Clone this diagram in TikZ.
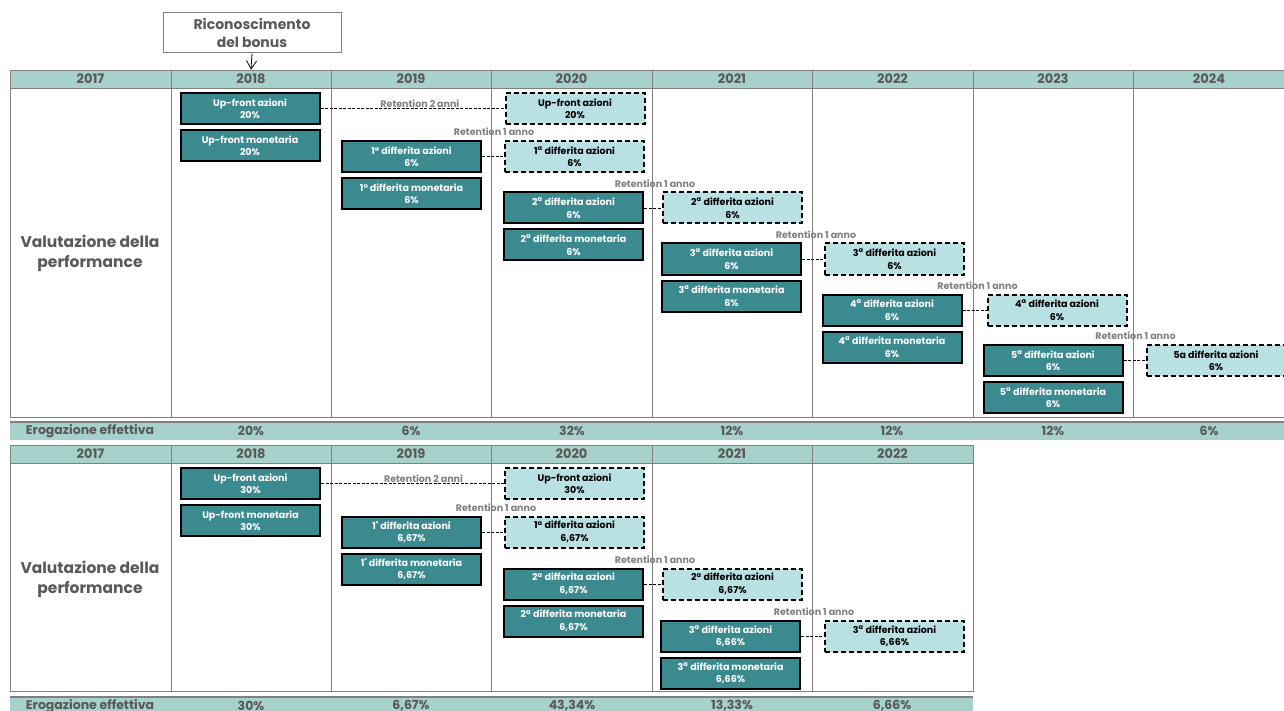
\documentclass[tikz,border=0pt]{standalone}
\usepackage{fontspec}
\setmainfont{Poppins}
\usetikzlibrary{arrows.meta, positioning}

\definecolor{headfill}{HTML}{A6D2CB}
\definecolor{tealfill}{HTML}{3B8A90}
\definecolor{retfill}{HTML}{B9E0E3}
\definecolor{gridgray}{HTML}{808080}
\definecolor{textgray}{HTML}{595959}
\definecolor{labelgray}{HTML}{7F7F7F}

\tikzset{
  yearcell/.style={draw=gridgray, fill=headfill, line width=0.8pt, minimum height=18pt, inner sep=0pt,
    text=textgray, font=\fontsize{13}{13}\selectfont\bfseries},
  gridline/.style={draw=gridgray, line width=0.8pt},
  paybox/.style={draw=black, fill=tealfill, line width=2pt, minimum width=139pt, minimum height=31pt,
    inner sep=0pt, align=center, text=white, font=\fontsize{9.5}{12.5}\selectfont\bfseries},
  retbox/.style={paybox, fill=retfill, text=black, dash pattern=on 5pt off 3pt},
  retline/.style={draw=black, line width=0.8pt, dash pattern=on 3pt off 1.5pt},
  retlabel/.style={text=labelgray, inner sep=1pt, font=\fontsize{9.5}{10}\selectfont\bfseries},
  erotext/.style={text=textgray, inner sep=0pt, font=\fontsize{12.5}{13}\selectfont\bfseries},
  valtext/.style={text=textgray, align=center, font=\fontsize{15.5}{20}\selectfont\bfseries},
  titlebox/.style={draw=gridgray, line width=1pt, minimum width=178pt, minimum height=40pt, inner sep=0pt,
    align=center, text=textgray, font=\fontsize{14}{18}\selectfont\bfseries}
}

\begin{document}
\begin{tikzpicture}[x=1pt, y=-1pt]
\useasboundingbox (0,0) rectangle (1284,711);

% riconoscimento del bonus
\node (ricon) [titlebox] at (252,33) {Riconoscimento\\del bonus};

%%% tabella superiore
\foreach \yr/\xa/\xb in {2017/10/171, 2018/171/331, 2019/331/491, 2020/491/652, 2021/652/812,
    2022/812/973, 2023/973/1133, 2024/1133/1285}
  \node (ya\yr) [yearcell, minimum width={\xb-\xa}] at ({(\xa+\xb)/2},79) {\yr};
\draw[->, >={Straight Barb[length=8pt,width=10pt]}, line width=0.8pt] (ricon.south) -- (ya2018.north);

\draw[gridline] (10,88) -- (10,417) -- (1285,417);
\foreach \x in {171,331,491,652,812,973,1133}
  \draw[gridline] (\x,88) -- (\x,417);
\node (val1) [valtext] at (90,253) {Valutazione della\\performance};

% up-front
\node (upa) [paybox] at (250,108.5) {Up-front azioni\\20\%};
\node (upm) [paybox, below=4pt of upa] {Up-front monetaria\\20\%};
\node (r0) [retbox, right=184pt of upa] {Up-front azioni\\20\%};
\draw[retline] (upa.east) -- node[retlabel, above, pos=0.54] (l0) {Retention 2 anni} (r0.west);

% differite
\node (d1a) [paybox] at (411.5,156.5) {1° differita azioni\\6\%};
\node (d1m) [paybox, below=4pt of d1a] {1° differita monetaria\\6\%};
\node (r1) [retbox, right=22pt of d1a] {1\textsuperscript{a} differita azioni\\6\%};
\draw[retline] (d1a) -- (r1);
\node (l1) [retlabel, anchor=south] at ([shift={(-10pt,3pt)}]r1.north west) {Retention 1 anno};

\node (d2a) [paybox] at (573.5,208) {2\textsuperscript{a} differita azioni\\6\%};
\node (d2m) [paybox, below=4pt of d2a] {2\textsuperscript{a} differita monetaria\\6\%};
\node (r2) [retbox, right=18pt of d2a] {2\textsuperscript{a} differita azioni\\6\%};
\draw[retline] (d2a) -- (r2);
\node (l2) [retlabel, anchor=south] at ([shift={(-7pt,3pt)}]r2.north west) {Retention 1 anno};

\node (d3a) [paybox] at (731.5,259) {3\textsuperscript{a} differita azioni\\6\%};
\node (d3m) [paybox, below=4pt of d3a] {3\textsuperscript{a} differita monetaria\\6\%};
\node (r3) [retbox, right=22pt of d3a] {3\textsuperscript{a} differita azioni\\6\%};
\draw[retline] (d3a) -- (r3);
\node (l3) [retlabel, anchor=south] at ([shift={(-8pt,3pt)}]r3.north west) {Retention 1 anno};

\node (d4a) [paybox] at (892,310) {4\textsuperscript{a} differita azioni\\6\%};
\node (d4m) [paybox, below=4pt of d4a] {4\textsuperscript{a} differita monetaria\\6\%};
\node (r4) [retbox, right=24pt of d4a] {4\textsuperscript{a} differita azioni\\6\%};
\draw[retline] (d4a) -- (r4);
\node (l4) [retlabel, anchor=south] at ([shift={(-9pt,3pt)}]r4.north west) {Retention 1 anno};

\node (d5a) [paybox] at (1053,360.5) {5\textsuperscript{a} differita azioni\\6\%};
\node (d5m) [paybox, below=4pt of d5a] {5\textsuperscript{a} differita monetaria\\6\%};
\node (r5) [retbox, right=22pt of d5a] {5a differita azioni\\6\%};
\draw[retline] (d5a) -- (r5);
\node (l5) [retlabel, anchor=south] at ([shift={(-10pt,3pt)}]r5.north west) {Retention 1 anno};

% erogazione effettiva
\fill[headfill] (10,422) rectangle (1285,440);
\draw[gridline, line width=1.2pt] (10,422) -- (1285,422);
\node (ero1) [erotext] at (90,431) {Erogazione effettiva};
\foreach \v/\x in {20\%/251, 6\%/411, 32\%/572, 12\%/732, 12\%/892, 12\%/1053, 6\%/1209}
  \node[erotext] at (\x,431) {\v};

%%% tabella inferiore
\foreach \yr/\xa/\xb in {2017/10/171, 2018/171/331, 2019/331/491, 2020/491/652, 2021/652/812, 2022/812/973}
  \node (yb\yr) [yearcell, minimum width={\xb-\xa}] at ({(\xa+\xb)/2},454) {\yr};

\draw[gridline] (10,463) -- (10,691) -- (973,691) -- (973,463);
\foreach \x in {171,331,491,652,812}
  \draw[gridline] (\x,463) -- (\x,691);
\node (val2) [valtext] at (90,579) {Valutazione della\\performance};

\node (bupa) [paybox] at (250.5,483.5) {Up-front azioni\\30\%};
\node (bupm) [paybox, below=4pt of bupa] {Up-front monetaria\\30\%};
\node (br0) [retbox, right=183pt of bupa] {Up-front azioni\\30\%};
\draw[retline] (bupa.east) -- node[retlabel, above, pos=0.56] (bl0) {Retention 2 anni} (br0.west);

\node (bd1a) [paybox] at (411.5,532) {1˚ differita azioni\\6,67\%};
\node (bd1m) [paybox, below=4pt of bd1a] {1˚ differita monetaria\\6,67\%};
\node (br1) [retbox, right=22pt of bd1a] {1\textsuperscript{a} differita azioni\\6,67\%};
\draw[retline] (bd1a) -- (br1);
\node (bl1) [retlabel, anchor=south] at ([shift={(-8pt,3pt)}]br1.north west) {Retention 1 anno};

\node (bd2a) [paybox] at (573.5,584) {2\textsuperscript{a} differita azioni\\6,67\%};
\node (bd2m) [paybox, below=4pt of bd2a] {2\textsuperscript{a} differita monetaria\\6,67\%};
\node (br2) [retbox, right=18pt of bd2a] {2\textsuperscript{a} differita azioni\\6,67\%};
\draw[retline] (bd2a) -- (br2);
\node (bl2) [retlabel, anchor=south] at ([shift={(-7pt,3pt)}]br2.north west) {Retention 1 anno};

\node (bd3a) [paybox] at (730.5,636.5) {3\textsuperscript{a} differita azioni\\6,66\%};
\node (bd3m) [paybox, below=4pt of bd3a] {3\textsuperscript{a} differita monetaria\\6,66\%};
\node (br3) [retbox, right=23pt of bd3a] {3\textsuperscript{a} differita azioni\\6,66\%};
\draw[retline] (bd3a) -- (br3);
\node (bl3) [retlabel, anchor=south] at ([shift={(-10pt,3pt)}]br3.north west) {Retention 1 anno};

\fill[headfill] (10,697) rectangle (973,716);
\draw[gridline, line width=1.2pt] (10,697) -- (973,697);
\node (ero2) [erotext] at (90,706) {Erogazione effettiva};
\foreach \v/\x in {30\%/251, {6,67\%}/411, {43,34\%}/572, {13,33\%}/732, {6,66\%}/892}
  \node[erotext] at (\x,706) {\v};
\end{tikzpicture}
\end{document}
